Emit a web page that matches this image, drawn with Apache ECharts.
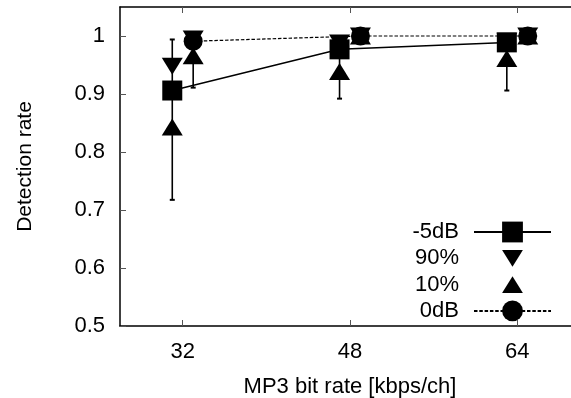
<!DOCTYPE html>
<html>
<head>
<meta charset="utf-8">
<script src="https://cdn.jsdelivr.net/npm/echarts@6/dist/echarts.min.js"></script>
<style>html,body{margin:0;padding:0;background:#fff}#c{width:571px;height:398px}</style>
</head>
<body>
<div id="c"></div>
<script>
// ---- data ----
const bitRates = [32, 48, 64];
const xTicks = [32, 48, 64];
const yTicks = [0.5, 0.6, 0.7, 0.8, 0.9, 1];

const m5dB      = [0.906, 0.977, 0.989];
const m5dB_p90  = [0.948, 0.988, 0.991];
const m5dB_p10  = [0.843, 0.939, 0.961];
const m5dB_min  = [0.7175, 0.892, 0.906];
const m5dB_max  = [0.994, 0.995, 1.0];

const z0dB      = [0.991, 1.0, 1.0];
const z0dB_p90  = [0.995, 1.0, 1.0];
const z0dB_p10  = [0.966, 1.0, 1.0];
const z0dB_min  = [0.911, 1.0, 1.0];
const z0dB_max  = [1.0, 1.0, 1.0];

// horizontal offset (kbps) separating the two groups
const OFF = 1;

const pts = (vals, d) => bitRates.map((b, i) => [b + d, vals[i]]);
const FONT = 'Liberation Sans, Arial, Helvetica, sans-serif';
const FS = 22;
const downTri = 'path://M0,-2 M21,19 M0,0 L21,0 L10.5,17 Z';
const upTri = 'path://M0,-2 M21,19 M10.5,0 L21,17 L0,17 Z';

const errData = bitRates.map((b, i) => [b - OFF, m5dB_min[i], m5dB_max[i]])
  .concat(bitRates.map((b, i) => [b + OFF, z0dB_min[i], z0dB_max[i]]));

const chart = echarts.init(document.getElementById('c'), null, {renderer: 'canvas'});
chart.setOption({
  animation: false,
  backgroundColor: '#fff',
  textStyle: {fontFamily: FONT, color: '#000'},
  grid: {left: 120, top: 7, width: 460, height: 319, containLabel: false, outerBoundsMode: 'none'},
  legend: {
    data: ['-5dB', '90%', '10%', '0dB'],
    orient: 'vertical',
    align: 'right',
    right: 19,
    top: 221,
    padding: 0,
    itemWidth: 77,
    itemHeight: 26,
    itemGap: 4.3,
    selectedMode: false,
    textStyle: {fontSize: FS, color: '#000', fontFamily: FONT, padding: [0, 10, 0, 0]}
  },
  xAxis: [{
    type: 'value', min: 26, max: 70,
    name: 'MP3 bit rate [kbps/ch]', nameLocation: 'middle', nameGap: 50,
    nameTextStyle: {fontSize: FS, color: '#000', fontFamily: FONT},
    axisLine: {show: true, lineStyle: {color: '#000', width: 1.5}},
    axisTick: {show: true, inside: true, length: 6, customValues: xTicks, lineStyle: {color: '#555', width: 1}},
    axisLabel: {show: true, customValues: xTicks, margin: 15, fontSize: FS, color: '#000', fontFamily: FONT},
    splitLine: {show: false}
  }, {
    type: 'value', min: 26, max: 70, position: 'top',
    axisLine: {show: true, onZero: false, lineStyle: {color: '#000', width: 1.5}},
    axisTick: {show: true, inside: true, length: 6, customValues: xTicks, lineStyle: {color: '#555', width: 1}},
    axisLabel: {show: false},
    splitLine: {show: false}
  }],
  yAxis: {
    type: 'value', min: 0.5, max: 1.05,
    name: 'Detection rate', nameLocation: 'middle', nameGap: 84,
    nameTextStyle: {fontSize: 21, color: '#000', fontFamily: FONT},
    axisLine: {show: true, lineStyle: {color: '#000', width: 1.5}},
    axisTick: {show: true, inside: true, length: 6, customValues: yTicks, lineStyle: {color: '#555', width: 1}},
    axisLabel: {show: true, customValues: yTicks, margin: 15, fontSize: FS, color: '#000', fontFamily: FONT,
      formatter: v => String(+v.toFixed(2))},
    splitLine: {show: false}
  },
  series: [
    {
      type: 'custom', name: 'err', z: 1, silent: true,
      data: errData,
      renderItem: function (params, api) {
        const x = api.value(0);
        const lo = api.coord([x, api.value(1)]);
        const hi = api.coord([x, api.value(2)]);
        const st = {stroke: '#000', lineWidth: 1.6};
        const cw = 2.5;
        return {type: 'group', children: [
          {type: 'line', shape: {x1: lo[0], y1: lo[1], x2: hi[0], y2: hi[1]}, style: st},
          {type: 'line', shape: {x1: lo[0] - cw, y1: lo[1], x2: lo[0] + cw, y2: lo[1]}, style: {stroke: '#000', lineWidth: 2}},
          {type: 'line', shape: {x1: hi[0] - cw, y1: hi[1], x2: hi[0] + cw, y2: hi[1]}, style: {stroke: '#000', lineWidth: 2}}
        ]};
      }
    },
    {
      type: 'line', name: '90%', z: 2,
      data: pts(m5dB_p90, -OFF).concat(pts(z0dB_p90, OFF)),
      symbol: downTri, symbolSize: 21,
      itemStyle: {color: '#000'},
      lineStyle: {width: 0, opacity: 0}
    },
    {
      type: 'line', name: '10%', z: 2,
      data: pts(m5dB_p10, -OFF).concat(pts(z0dB_p10, OFF)),
      symbol: upTri, symbolSize: 21,
      itemStyle: {color: '#000'},
      lineStyle: {width: 0, opacity: 0}
    },
    {
      type: 'line', name: '-5dB', z: 3,
      data: pts(m5dB, -OFF),
      symbol: 'rect', symbolSize: 20,
      itemStyle: {color: '#000'},
      lineStyle: {color: '#000', width: 1.5}
    },
    {
      type: 'line', name: '0dB', z: 3,
      data: pts(z0dB, OFF),
      symbol: 'circle', symbolSize: 19,
      itemStyle: {color: '#000'},
      lineStyle: {color: '#000', width: 1.2, type: [3.5, 1.8]}
    }
  ]
});
</script>
</body>
</html>
